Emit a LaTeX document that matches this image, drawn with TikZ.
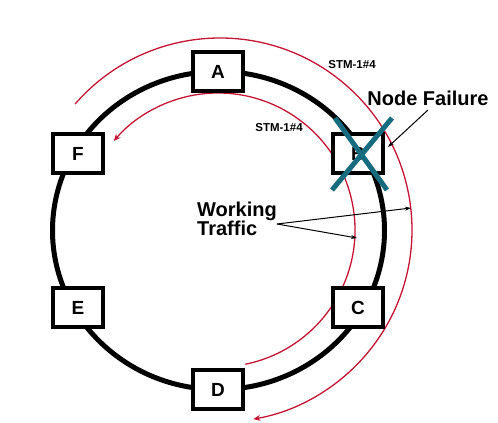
\documentclass[tikz,border=0pt]{standalone}
\usepackage{fontspec}
\setmainfont{Liberation Sans}
\usetikzlibrary{arrows.meta}
\definecolor{ringred}{RGB}{196,22,52}
\definecolor{xteal}{RGB}{22,108,126}
\begin{document}
\begin{tikzpicture}[x=1pt,y=1pt,
  site/.style={draw=black,line width=4pt,fill=white,minimum width=50pt,minimum height=39pt,inner sep=0pt,font=\fontsize{19}{19}\selectfont\bfseries},
  redarc/.style={draw=ringred,line width=1.3pt,-{Stealth[length=7pt,width=6pt]}},
  callout/.style={draw=black,line width=1pt,-{Stealth[length=6pt,width=4pt]}},
  lbl/.style={font=\fontsize{20}{20}\selectfont\bfseries,inner sep=0pt},
  small/.style={font=\fontsize{11.5}{12}\selectfont\bfseries,inner sep=0pt}]
\useasboundingbox (0,0) rectangle (498,423);
% ring
\draw[line width=5pt] (218.5,192.5) ellipse [x radius=166, y radius=159];
% red protection paths
\draw[redarc] (220,193) ++(139:192) arc[start angle=139, end angle=-80, radius=192];
\draw[redarc] (218,193) ++(-78.5:137) arc[start angle=-78.5, end angle=139.5, radius=137];
% sites
\node[site] (A) at (218,351.5) {A};
\node[site] (F) at (78,269) {F};
\node[site] (B) at (358,269) {B};
\node[site] (E) at (78,115.5) {E};
\node[site] (C) at (358,115.5) {C};
\node[site] (D) at (218,33) {D};
% failure cross
\draw[xteal,line width=5pt] (332,233) -- (392,305);
\draw[xteal,line width=5pt] (335,305) -- (387,233);
% labels
\node[small] (stm1) at (352,358) {STM-1\#4};
\node[small] (stm2) at (279,295) {STM-1\#4};
\node[lbl] (nf) at (428,325) {Node Failure};
\coordinate (nfend) at (388,276);
\draw[callout] (428,313) -- (nfend);
\node[lbl,align=left,anchor=west] (wt) at (197,204) {Working\\[-1pt]Traffic};
\coordinate (wtstart) at (277,199);
\coordinate (wt1) at (411,215);
\coordinate (wt2) at (357,185);
\draw[callout] (wtstart) -- (wt1);
\draw[callout] (wtstart) -- (wt2);
\end{tikzpicture}
\end{document}
